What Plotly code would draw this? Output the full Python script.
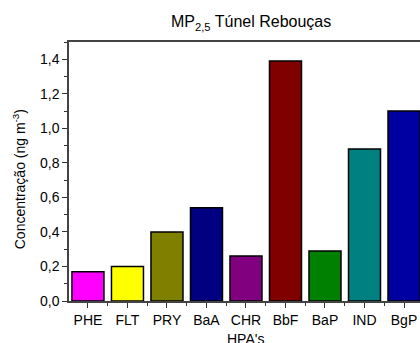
import plotly.graph_objects as go

categories = ["PHE", "FLT", "PRY", "BaA", "CHR", "BbF", "BaP", "IND", "BgP"]
values = [0.17, 0.20, 0.40, 0.54, 0.26, 1.39, 0.29, 0.88, 1.10]
colors = ["#FF00FF", "#FFFF00", "#808000", "#000080", "#800080",
          "#800000", "#008000", "#008080", "#0000A0"]
y_ticks = [0.0, 0.2, 0.4, 0.6, 0.8, 1.0, 1.2, 1.4]

xpos = list(range(len(categories)))

fig = go.Figure(go.Bar(
    x=xpos, y=values,
    marker=dict(color=colors, line=dict(color="black", width=1.5)),
    width=0.81,
))

fam = "Liberation Sans, Arial, sans-serif"
font = dict(family=fam, size=14, color="black")

fig.update_layout(
    width=420, height=343,
    margin=dict(l=69, r=0, t=42, b=42),
    paper_bgcolor="white", plot_bgcolor="white",
    separators=",.",
    font=font,
    showlegend=False,
    title=dict(text="MP<sub>2,5</sub> Túnel Rebouças", x=0.598, xanchor="center",
               y=0.937, yanchor="middle", font=dict(size=16, family=fam, color="black")),
    annotations=[
        dict(text="Concentração (ng m<sup>-3</sup>)", textangle=-90,
             xref="paper", yref="paper", x=-0.1425, y=0.47,
             xanchor="center", yanchor="middle", showarrow=False,
             font=dict(size=14, family=fam, color="black")),
        dict(text="HPA's", xref="paper", yref="paper", x=0.504, y=-0.108,
             xanchor="center", yanchor="top", showarrow=False,
             font=dict(size=14, family=fam, color="black")),
    ],
)

fig.update_xaxes(
    range=[-0.48, 8.405],
    tickmode="array", tickvals=xpos, ticktext=categories,
    showline=True, linecolor="#444", linewidth=1.5, mirror=True,
    ticks="outside", ticklen=5, tickcolor="#333", tickwidth=1,
    minor=dict(tick0=0.5, dtick=1, ticks="outside", ticklen=3, tickcolor="#333"),
    showgrid=False, zeroline=False,
    tickfont=dict(size=14),
)

fig.update_yaxes(
    range=[0, 1.5],
    tickmode="array", tickvals=y_ticks, tickformat=".1f",
    showline=True, linecolor="#444", linewidth=1.5, mirror=False,
    ticks="outside", ticklen=5, tickcolor="#333", tickwidth=1,
    minor=dict(tick0=0.1, dtick=0.2, ticks="outside", ticklen=3, tickcolor="#333"),
    showgrid=False, zeroline=False,
    tickfont=dict(size=14),
)

fig.write_html("out.html", config={"displayModeBar": False},
               post_script="document.body.style.margin='0';document.body.style.overflow='hidden';")
